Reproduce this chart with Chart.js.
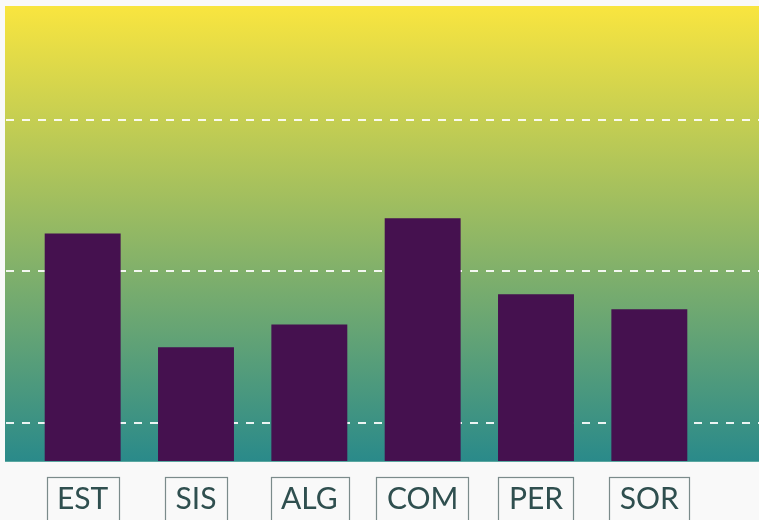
<!DOCTYPE html>
<html>
<head>
<meta charset="utf-8">
<script src="https://cdn.jsdelivr.net/npm/chart.js@4/dist/chart.umd.min.js"></script>
<style>
  html, body { margin: 0; padding: 0; background: #f9f9f9; }
  #wrap { width: 759px; height: 520px; position: relative; }
</style>
</head>
<body>
<div id="wrap"><canvas id="c" width="759" height="520"></canvas></div>
<script>
const categories = ['EST', 'SIS', 'ALG', 'COM', 'PER', 'SOR'];
const values = [30, 15, 18, 32, 22, 20];
const gridTicks = [5, 25, 45];
const yMin = 0;
const yMax = 60;

const bgPlugin = {
  id: 'bgPlugin',
  beforeDraw(chart) {
    const { ctx, chartArea, width } = chart;
    const g = ctx.createLinearGradient(0, chartArea.top, 0, chartArea.bottom);
    g.addColorStop(0, '#f9e53f');
    g.addColorStop(1, '#2a8a8a');
    ctx.save();
    ctx.fillStyle = g;
    ctx.fillRect(5, chartArea.top, width - 5, chartArea.bottom - chartArea.top);
    const ys = chart.scales.y;
    ctx.strokeStyle = 'rgba(255,255,255,0.9)';
    ctx.lineWidth = 2;
    ctx.setLineDash([8, 8]);
    gridTicks.forEach(t => {
      const y = Math.round(ys.getPixelForValue(t));
      ctx.beginPath();
      ctx.moveTo(6, y);
      ctx.lineTo(width, y);
      ctx.stroke();
    });
    ctx.restore();
  },
  afterDraw(chart) {
    const { ctx, chartArea, width } = chart;
    const xs = chart.scales.x;
    ctx.save();
    ctx.strokeStyle = '#5aa8a1';
    ctx.lineWidth = 1;
    ctx.beginPath();
    ctx.moveTo(5, chartArea.bottom + 0.5);
    ctx.lineTo(width, chartArea.bottom + 0.5);
    ctx.stroke();
    ctx.font = '30px Lato';
    ctx.strokeStyle = '#7b8b8b';
    ctx.lineWidth = 1.2;
    categories.forEach((lab, i) => {
      const cx = xs.getPixelForTick(i);
      const w = ctx.measureText(lab).width + 21;
      ctx.strokeRect(Math.round(cx - w / 2) + 0.5, chartArea.bottom + 16.5, Math.round(w), 70);
    });
    ctx.restore();
  }
};

new Chart(document.getElementById('c'), {
  type: 'bar',
  data: {
    labels: categories,
    datasets: [{
      data: values,
      backgroundColor: '#45114f',
      borderWidth: 0,
      barPercentage: 0.67,
      categoryPercentage: 1
    }]
  },
  options: {
    responsive: false,
    animation: false,
    layout: { padding: { top: 6, left: 26, right: 53, bottom: 0 } },
    plugins: { legend: { display: false }, tooltip: { enabled: false } },
    scales: {
      x: {
        grid: { display: false, drawTicks: false },
        border: { display: false },
        afterFit(scale) { scale.height = 59; },
        ticks: {
          color: '#2f4f4f',
          font: { family: 'Lato', size: 30 },
          padding: 20,
          maxRotation: 0,
          autoSkip: false
        }
      },
      y: {
        display: false,
        min: yMin,
        max: yMax
      }
    }
  },
  plugins: [bgPlugin]
});
</script>
</body>
</html>
